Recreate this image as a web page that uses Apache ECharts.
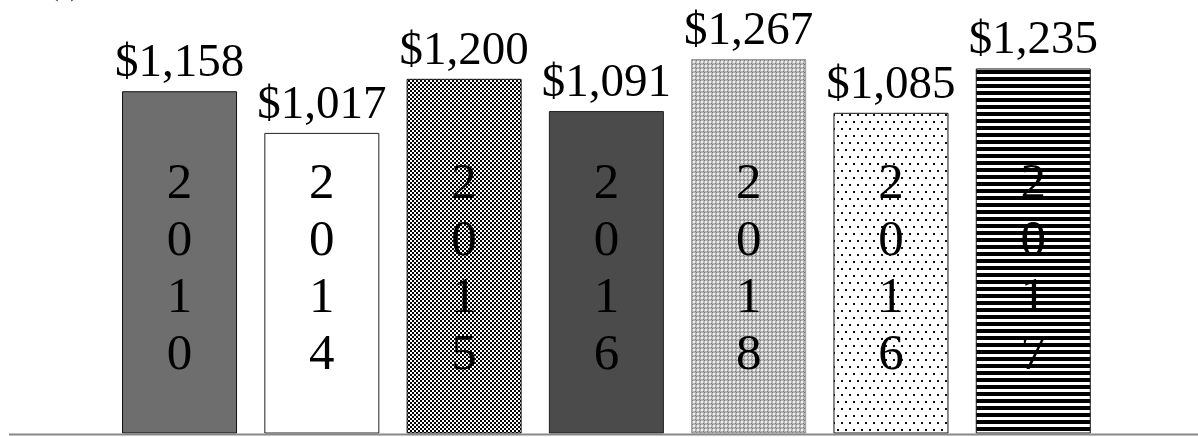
<!DOCTYPE html>
<html>
<head>
<meta charset="utf-8">
<script src="https://cdn.jsdelivr.net/npm/echarts@6/dist/echarts.min.js"></script>
<style>
html,body{margin:0;padding:0;background:#fff;}
#chart{width:1198px;height:437px;}
</style>
</head>
<body>
<div id="chart"></div>
<script>
var categories = ['2010', '2014', '2015', '2016', '2018', '2016b', '2017'];
var years = ['2010', '2014', '2015', '2016', '2018', '2016', '2017'];
var values = [1158, 1017, 1200, 1091, 1267, 1085, 1235];
var patterns = ['solidMid', 'white', 'checker', 'solidDark', 'fineDots', 'sparseDots', 'stripes'];

function makeTile(kind) {
  var c = document.createElement('canvas');
  var g;
  if (kind === 'checker') {
    c.width = 4; c.height = 4; g = c.getContext('2d');
    g.fillStyle = '#fff'; g.fillRect(0, 0, 4, 4);
    g.fillStyle = '#000'; g.fillRect(0, 0, 2, 2); g.fillRect(2, 2, 2, 2);
  } else if (kind === 'fineDots') {
    c.width = 4; c.height = 4; g = c.getContext('2d');
    g.fillStyle = '#b4b4b4'; g.fillRect(0, 0, 4, 4);
    g.fillStyle = '#eeeeee'; g.fillRect(1, 1, 2, 2);
    g.fillStyle = '#777777'; g.fillRect(0, 0, 1, 1); g.fillRect(3, 3, 1, 1);
  } else if (kind === 'sparseDots') {
    c.width = 8; c.height = 14; g = c.getContext('2d');
    g.fillStyle = '#fff'; g.fillRect(0, 0, 8, 14);
    g.fillStyle = '#111'; g.fillRect(1, 2, 2, 2); g.fillRect(5, 9, 2, 2);
  } else if (kind === 'stripes') {
    c.width = 4; c.height = 7; g = c.getContext('2d');
    g.fillStyle = '#fff'; g.fillRect(0, 0, 4, 7);
    g.fillStyle = '#000'; g.fillRect(0, 0, 4, 4);
  }
  return c;
}

function styleFor(kind) {
  if (kind === 'solidMid') return {color: '#6e6e6e', borderColor: '#111', borderWidth: 1};
  if (kind === 'solidDark') return {color: '#4b4b4b', borderColor: '#222', borderWidth: 1};
  if (kind === 'white') return {color: '#ffffff', borderColor: '#222', borderWidth: 1};
  var border = kind === 'fineDots' ? '#999' : '#111';
  return {color: {image: makeTile(kind), repeat: 'repeat'}, borderColor: border, borderWidth: 1};
}

var barData = values.map(function (v, i) {
  return {value: v, itemStyle: styleFor(patterns[i])};
});

var serif = '"Liberation Serif", "Times New Roman", serif';

var chart = echarts.init(document.getElementById('chart'), null, {renderer: 'canvas'});
chart.setOption({
  animation: false,
  grid: {left: 108.4, right: 93.6, top: 19.7, bottom: 3.5, containLabel: false},
  xAxis: {
    type: 'category',
    data: categories,
    axisLine: {show: false},
    axisTick: {show: false},
    axisLabel: {show: false},
    splitLine: {show: false}
  },
  yAxis: {
    type: 'value', min: 0, max: 1400,
    show: false,
    splitLine: {show: false}
  },
  graphic: [
    {type: 'line', shape: {x1: 9, y1: 434.5, x2: 1198, y2: 434.5}, style: {stroke: '#888', lineWidth: 2}, z: 100},
    {type: 'text', left: 50, top: -24, style: {text: '(c)', font: '26px ' + serif, fill: '#222'}}
  ],
  series: [
    {
      type: 'bar',
      data: barData,
      barWidth: 115,
      label: {
        show: true,
        position: 'insideBottom',
        distance: 49,
        fontFamily: serif,
        fontSize: 51,
        lineHeight: 57,
        color: '#000',
        formatter: function (p) { return years[p.dataIndex].split('').join('\n'); }
      }
    },
    {
      type: 'bar',
      data: values,
      barWidth: 115,
      barGap: '-100%',
      silent: true,
      itemStyle: {color: 'rgba(0,0,0,0)'},
      label: {
        show: true,
        position: 'top',
        distance: 4,
        fontFamily: serif,
        fontSize: 47,
        color: '#000',
        formatter: function (p) { return '$' + p.value.toLocaleString('en-US'); }
      }
    }
  ]
});
</script>
</body>
</html>
